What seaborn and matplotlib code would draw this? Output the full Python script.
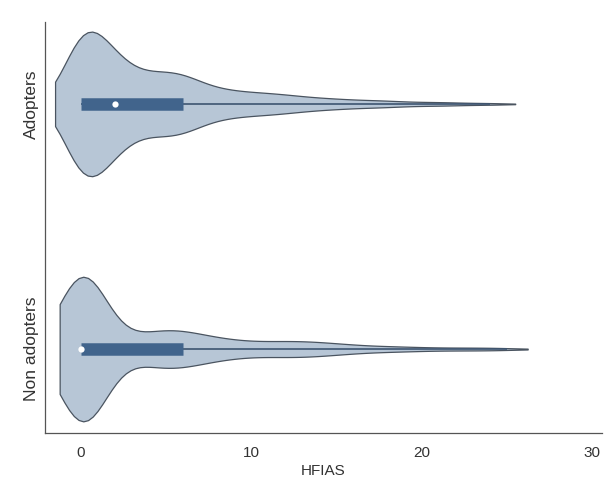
import numpy as np
import pandas as pd
import matplotlib
matplotlib.use("Agg")
import matplotlib.pyplot as plt
import seaborn as sns

# HFIAS score levels and estimated number of households at each score
scores = list(range(0, 26))
adopters_counts = [70, 34, 30, 14, 17, 17, 19, 10, 8, 7, 6, 6, 5, 4, 3, 3, 2, 2, 2,
                   1, 1, 1, 1, 0, 1, 0]
non_adopters_counts = [150, 24, 5, 5, 14, 16, 14, 10, 8, 6, 5, 5, 6, 6, 5, 4, 3,
                       2, 2, 2, 1, 1, 1, 1, 1, 1]
groups = ["Adopters", "Non adopters"]
# kernel smoothing per group (the original uses its own bandwidth per violin)
bw_adjust = [0.72, 0.78]
cut = [1.3, 0.9]

df = pd.concat([
    pd.DataFrame({"HFIAS": np.repeat(scores, adopters_counts), "group": groups[0]}),
    pd.DataFrame({"HFIAS": np.repeat(scores, non_adopters_counts), "group": groups[1]}),
])

sns.set_style("white")
plt.rcParams["font.family"] = ["Liberation Sans", "DejaVu Sans"]

fig = plt.figure(figsize=(6.08, 4.95), dpi=100)
ax = fig.add_axes([0.074, 0.125, 0.916, 0.831])

for i, g in enumerate(groups):
    sub = df[df["group"] == g]
    n_lines = len(ax.lines)
    sns.violinplot(data=sub, x="HFIAS", y="group", order=groups, orient="h",
                   color="#b7c6d6", saturation=1, linecolor="#41648c", linewidth=1,
                   density_norm="width", width=0.59, cut=cut[i], bw_adjust=bw_adjust[i],
                   inner="box", inner_kws=dict(box_width=9, whis_width=1.2, marker="o"),
                   ax=ax)
    for ln in ax.lines[n_lines:]:
        ln.set_solid_capstyle("butt")
        if ln.get_marker() == "o":
            # small white median dot
            ln.set_markersize(4.5)
            ln.set_markeredgewidth(0)
            ln.set_markerfacecolor("white")
        elif ln.get_linewidth() < 3:
            # whisker runs over the whole data range
            ln.set_xdata([sub["HFIAS"].min(), sub["HFIAS"].max()])
            ln.set_color("#3d5470")

# violin outline in dark grey, like the original
for coll in ax.collections:
    coll.set_edgecolor("#4a5460")
    coll.set_linewidth(0.9)

ax.set_xlim(-2.1, 30.6)
ax.set_ylim(1.343, -0.335)
ax.set_xticks([0, 10, 20, 30])
ax.set_xlabel("HFIAS", fontsize=11, color="#333333", labelpad=3)
ax.set_ylabel("")
ax.tick_params(axis="x", length=4, width=0.8, color="#555555", labelsize=11,
               labelcolor="#333333", pad=5)
ax.tick_params(axis="y", length=0, labelsize=12.5, labelcolor="#333333", pad=4)
for lab in ax.get_yticklabels():
    lab.set_rotation(90)
    lab.set_va("center")

sns.despine(ax=ax)
for s in ["left", "bottom"]:
    ax.spines[s].set_color("#555555")
    ax.spines[s].set_linewidth(0.9)

fig.savefig("out.png", dpi=100)
